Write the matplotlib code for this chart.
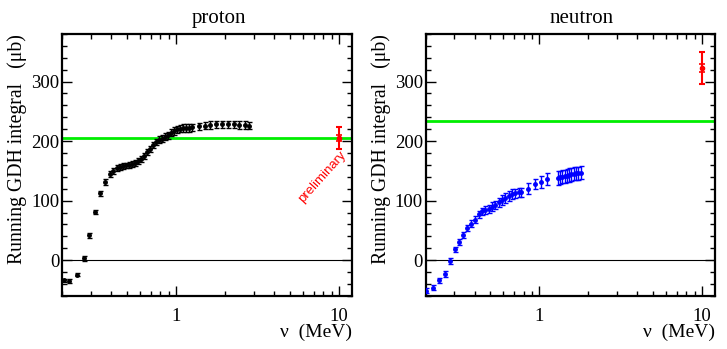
import matplotlib.pyplot as plt
from matplotlib.ticker import LogLocator, MultipleLocator, NullFormatter, FixedFormatter, FixedLocator

# proton running integral
p_nu = [0.205, 0.222, 0.248, 0.271, 0.294, 0.319, 0.343, 0.367, 0.391, 0.413,
        0.437, 0.456, 0.476, 0.496, 0.518, 0.540, 0.563, 0.587, 0.613, 0.640,
        0.667, 0.696, 0.726, 0.758, 0.790, 0.824, 0.860, 0.897, 0.936, 0.976,
        1.018, 1.062, 1.108, 1.156, 1.206, 1.259,
        1.39, 1.50, 1.61, 1.75, 1.92, 2.08, 2.27, 2.44, 2.63, 2.82]
p_val = [-34, -35, -24, 3, 42, 81, 112, 131, 144, 150,
         154, 157, 158, 159, 160, 161, 163, 166, 170, 175,
         181, 187, 193, 198, 202, 204, 207, 210, 214, 217,
         220, 221, 222, 222, 222, 223,
         225, 226, 227, 228, 228, 228, 228, 227, 227, 226]
p_err = [3, 3, 3, 4, 4, 4, 4, 5, 5, 5,
         5, 5, 5, 5, 5, 5, 5, 5, 5, 5,
         5, 5, 5, 5, 6, 6, 6, 6, 6, 6,
         6, 6, 6, 6, 6, 6,
         6, 6, 6, 6, 6, 6, 6, 6, 6, 6]

# neutron running integral
n_nu = [0.200, 0.222, 0.242, 0.261, 0.281, 0.302, 0.321, 0.341, 0.361, 0.382,
        0.400, 0.423, 0.443, 0.465, 0.487, 0.511, 0.536, 0.561, 0.588, 0.617,
        0.646, 0.676, 0.709, 0.744, 0.773,
        0.848, 0.936, 1.018, 1.108,
        1.294, 1.337, 1.381, 1.427, 1.474, 1.522, 1.573, 1.624, 1.678, 1.733, 1.790]
n_val = [-51, -46, -34, -23, -2, 18, 31, 43, 54, 61,
         68, 77, 82, 84, 86, 90, 93, 97, 101, 104,
         108, 111, 112, 114, 114,
         120, 128, 132, 137,
         138, 139, 140, 141, 142, 143, 144, 145, 146, 146, 147]
n_err = [4, 4, 4, 5, 5, 5, 5, 5, 5, 6,
         6, 6, 6, 7, 7, 7, 7, 7, 8, 8,
         8, 8, 8, 8, 8,
         9, 9, 10, 10,
         11, 11, 11, 11, 11, 11, 11, 11, 11, 11, 11]

# sum rule predictions and high-energy estimates
gdh_pred = {"proton": 205, "neutron": 233}
hi_nu = 10
hi_val = {"proton": 205, "neutron": 323}
hi_err = {"proton": 18, "neutron": 27}
hi_stat = {"proton": 5, "neutron": 7}

plt.rcParams['font.family'] = ['Liberation Serif', 'DejaVu Serif']

fig = plt.figure(figsize=(7.27, 3.49), dpi=100)
ax_p = fig.add_axes([0.0853, 0.152, 0.399, 0.751])
ax_n = fig.add_axes([0.5856, 0.152, 0.398, 0.751])

panels = [(ax_p, "proton", p_nu, p_val, p_err, 'black'),
          (ax_n, "neutron", n_nu, n_val, n_err, 'blue')]

for ax, name, nu, val, err, col in panels:
    ax.set_xscale('log')
    ax.set_xlim(0.2, 12)
    ax.set_ylim(-60, 380)
    ax.axhline(0, color='black', lw=0.8, zorder=1)
    ax.axhline(gdh_pred[name], color='#00ee00', lw=2, zorder=2)
    ax.errorbar(nu, val, yerr=err, fmt='o', ms=2.5, color=col, ecolor=col,
                elinewidth=1, capsize=1.8, capthick=1, zorder=3)
    ax.errorbar([hi_nu], [hi_val[name]], yerr=[hi_err[name]], fmt='o', ms=3,
                color='red', elinewidth=1.5, capsize=2.5, capthick=1.5, zorder=4)
    ax.errorbar([hi_nu], [hi_val[name]], yerr=[hi_stat[name]], fmt='none',
                color='red', elinewidth=1.5, capsize=2, capthick=1.2, zorder=4)

    ax.xaxis.set_major_locator(FixedLocator([1, 10]))
    ax.xaxis.set_major_formatter(FixedFormatter(['1', '10']))
    ax.xaxis.set_minor_locator(LogLocator(base=10, subs=range(2, 10)))
    ax.xaxis.set_minor_formatter(NullFormatter())
    ax.yaxis.set_major_locator(MultipleLocator(100))
    ax.yaxis.set_minor_locator(MultipleLocator(20))
    ax.tick_params(which='both', direction='in', top=True, right=True,
                   labelsize=13.5, width=1)
    ax.tick_params(which='major', length=7)
    ax.tick_params(which='minor', length=3.5)
    ax.tick_params(axis='y', which='major', pad=2)
    ax.tick_params(axis='x', which='major', pad=9)
    for s in ax.spines.values():
        s.set_linewidth(1.6)

    ax.set_title(name, fontsize=15, x=0.54, pad=8)
    ax.set_ylabel('Running GDH integral   (\u03bcb)', fontsize=14.2, loc='top', labelpad=3)
    ax.set_xlabel('\u03bd  (MeV)', fontsize=14, loc='right', labelpad=-1)

ax_p.text(7.9, 140, 'preliminary', color='red', fontsize=9.5, family='Liberation Sans',
          rotation=48, ha='center', va='center')

fig.savefig('out.png', dpi=100)
